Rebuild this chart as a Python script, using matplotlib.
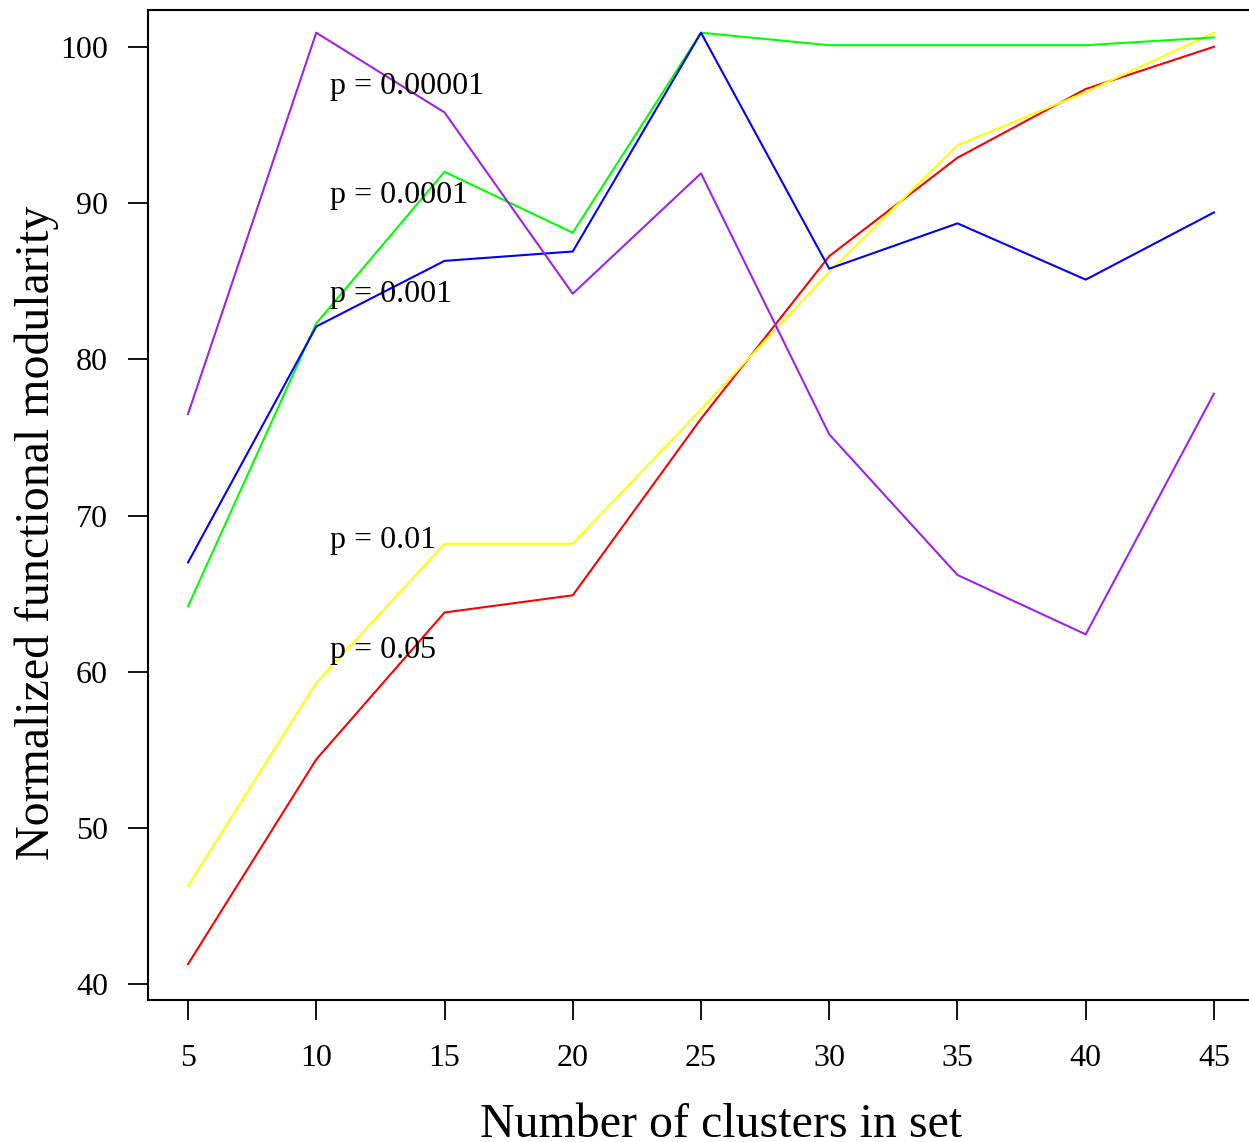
import matplotlib.pyplot as plt

plt.rcParams['font.family'] = ['Liberation Serif', 'DejaVu Serif']

clusters = [5, 10, 15, 20, 25, 30, 35, 40, 45]

p_005 = [41.3, 54.4, 63.8, 64.9, 76.2, 86.6, 92.9, 97.3, 100.0]       # red
p_001 = [46.3, 59.3, 68.2, 68.2, 76.8, 85.6, 93.7, 97.1, 100.9]       # yellow
p_0001 = [64.2, 82.3, 92.0, 88.1, 100.9, 100.1, 100.1, 100.1, 100.6]  # green
p_001b = [67.0, 82.1, 86.3, 86.9, 100.9, 85.8, 88.7, 85.1, 89.4]      # blue
p_00001 = [76.5, 100.9, 95.8, 84.2, 91.9, 75.2, 66.2, 62.4, 77.8]     # purple

labels = ['p = 0.00001', 'p = 0.0001', 'p = 0.001', 'p = 0.01', 'p = 0.05']
label_y = [97.0, 90.0, 83.7, 67.9, 60.9]
label_x = 10.55

fig = plt.figure(figsize=(12.49, 11.42), dpi=100)
ax = fig.add_axes([0.1181, 0.1243, 0.8867, 0.8669])
aw, ah = 0.8867 * 1249, 0.8669 * 1142  # axes size in px

ax.plot(clusters, p_005, color='#FF0000', lw=1.5)
ax.plot(clusters, p_001, color='#FFFF00', lw=1.5)
ax.plot(clusters, p_0001, color='#00FF00', lw=1.5)
ax.plot(clusters, p_001b, color='#0000FF', lw=1.5)
ax.plot(clusters, p_00001, color='#A020F0', lw=1.5)

for lab, y in zip(labels, label_y):
    ax.text(label_x, y, lab, fontsize=23, ha='left', va='baseline')

ax.set_xlim(3.42, 46.6)
ax.set_ylim(39.0, 102.35)
ax.set_xticks(clusters)
ax.set_yticks([40, 50, 60, 70, 80, 90, 100])
ax.tick_params(labelsize=23, length=14.5, width=1.3)
ax.tick_params(axis='x', pad=17)
ax.tick_params(axis='y', pad=14)

for s in ax.spines.values():
    s.set_linewidth(1.5)

ax.set_xlabel('Number of clusters in set', fontsize=34.5)
ax.set_ylabel('Normalized functional modularity', fontsize=34.5)
ax.xaxis.set_label_coords((721 - 147.5) / aw, -(1137 - 1000) / ah)
ax.xaxis.label.set_va('baseline')
ax.yaxis.set_label_coords(-(147.5 - 14) / aw, (1000 - 533) / ah)
ax.yaxis.label.set_va('top')

fig.savefig('out.png', dpi=100)
